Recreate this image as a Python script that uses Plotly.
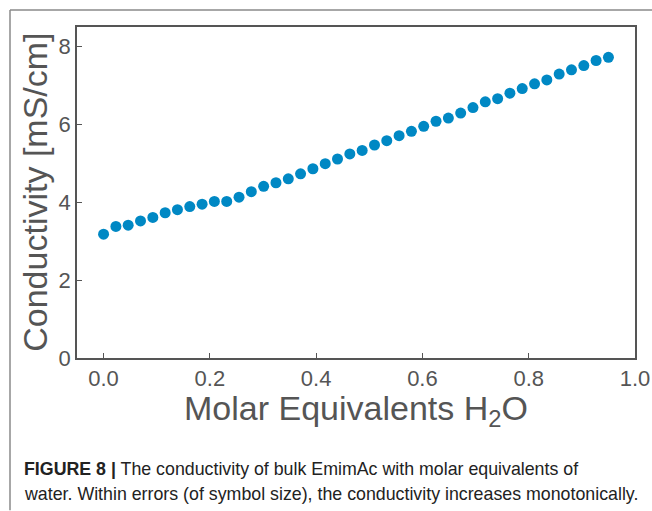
import plotly.graph_objects as go

water_eq = [0.0, 0.0232, 0.0463, 0.0695, 0.0927, 0.1159, 0.1390, 0.1622, 0.1854, 0.2085,
            0.2317, 0.2549, 0.2780, 0.3012, 0.3244, 0.3476, 0.3707, 0.3939, 0.4171, 0.4402,
            0.4634, 0.4866, 0.5098, 0.5329, 0.5561, 0.5793, 0.6024, 0.6256, 0.6488, 0.6720,
            0.6951, 0.7183, 0.7415, 0.7646, 0.7878, 0.8110, 0.8341, 0.8573, 0.8805, 0.9037,
            0.9268, 0.9500]
conductivity = [3.18, 3.38, 3.41, 3.52, 3.61, 3.73, 3.81, 3.89, 3.95, 4.02,
                4.02, 4.13, 4.27, 4.41, 4.50, 4.60, 4.73, 4.86, 4.99, 5.11,
                5.24, 5.33, 5.47, 5.58, 5.71, 5.82, 5.95, 6.08, 6.16, 6.29,
                6.43, 6.58, 6.66, 6.80, 6.92, 7.04, 7.14, 7.29, 7.40, 7.51,
                7.64, 7.72]
x_ticks = [0.0, 0.2, 0.4, 0.6, 0.8, 1.0]
y_ticks = [0, 2, 4, 6, 8]

FONT = "Liberation Sans, Arial, sans-serif"
GREY = "#555555"

fig = go.Figure()
fig.add_trace(go.Scatter(
    x=water_eq, y=conductivity, mode="markers",
    marker=dict(size=11, color="#0088C4", line=dict(width=0)),
    showlegend=False,
))

W, H = 652, 511
L, R, T = 77, 17, 27
B = H - 358.5
pw, ph = W - L - R, H - T - B

def px(x):
    return (x - L) / pw

def py(y):
    return (H - B - y) / ph

fig.update_layout(
    width=W, height=H,
    margin=dict(l=L, r=R, t=T, b=B, autoexpand=False),
    paper_bgcolor="white", plot_bgcolor="white",
    font=dict(family=FONT, color=GREY),
    xaxis=dict(
        range=[-0.05, 1.0], tickvals=x_ticks, ticktext=[f"{v:.1f}" for v in x_ticks],
        ticks="inside", ticklen=5, tickcolor=GREY, tickwidth=1,
        showline=True, linecolor=GREY, linewidth=1.5, mirror=True,
        showgrid=False, zeroline=False, automargin=False,
        tickfont=dict(size=22, color=GREY),
    ),
    yaxis=dict(
        range=[0, 8.5], tickvals=y_ticks,
        ticks="inside", ticklen=5, tickcolor=GREY, tickwidth=1,
        showline=True, linecolor=GREY, linewidth=1.5, mirror=True,
        showgrid=False, zeroline=False, automargin=False,
        tickfont=dict(size=22, color=GREY),
    ),
    shapes=[
        dict(type="line", xref="paper", yref="paper",
             x0=px(10), x1=px(652), y0=py(10), y1=py(10),
             line=dict(color="#8a8a8a", width=1.5)),
        dict(type="line", xref="paper", yref="paper",
             x0=px(10), x1=px(10), y0=py(10), y1=py(511),
             line=dict(color="#8a8a8a", width=1.5)),
    ],
)

fig.add_annotation(xref="paper", yref="paper", x=px(356), y=py(411),
                   xanchor="center", yanchor="middle", showarrow=False,
                   text="Molar Equivalents H<sub>2</sub>O",
                   font=dict(size=34, color=GREY, family=FONT))
fig.add_annotation(xref="paper", yref="paper", x=px(35), y=py(193),
                   xanchor="center", yanchor="middle", showarrow=False, textangle=-90,
                   text="Conductivity [mS/cm]",
                   font=dict(size=34, color=GREY, family=FONT))

fig.add_annotation(xref="paper", yref="paper", x=px(22), y=py(470),
                   xanchor="left", yanchor="middle", showarrow=False,
                   text="<b>FIGURE 8 |</b> The conductivity of bulk EmimAc with molar equivalents of",
                   font=dict(size=17.8, color="#222222", family=FONT))
fig.add_annotation(xref="paper", yref="paper", x=px(22), y=py(495),
                   xanchor="left", yanchor="middle", showarrow=False,
                   text="water. Within errors (of symbol size), the conductivity increases monotonically.",
                   font=dict(size=17.8, color="#222222", family=FONT))

fig.write_html("out.html", config={"displayModeBar": False},
               post_script="document.body.style.margin='0';document.body.style.overflow='hidden';")
